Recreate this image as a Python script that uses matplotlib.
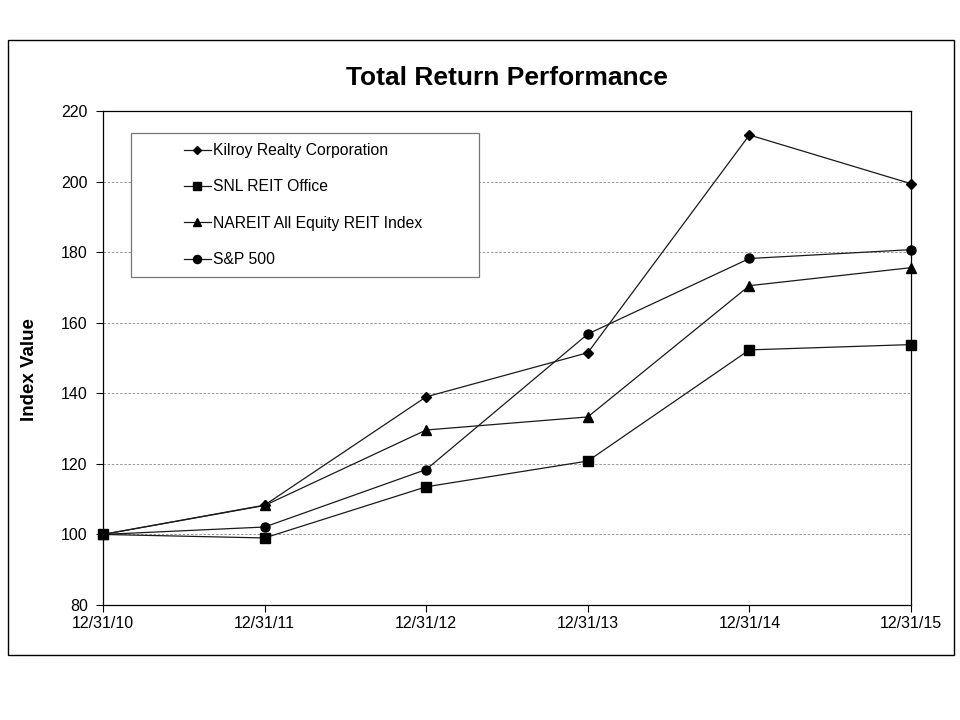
import matplotlib
matplotlib.use("Agg")
from matplotlib import pyplot as plt
from matplotlib.patches import Rectangle

plt.rcParams["font.family"] = ["Liberation Sans", "DejaVu Sans"]

dates = ["12/31/10", "12/31/11", "12/31/12", "12/31/13", "12/31/14", "12/31/15"]
kilroy = [100, 108.3, 139.0, 151.5, 213.2, 199.4]
snl_office = [100, 99.0, 113.5, 120.8, 152.3, 153.8]
nareit = [100, 108.2, 129.6, 133.3, 170.5, 175.6]
sp500 = [100, 102.1, 118.4, 156.8, 178.2, 180.7]

series = [
    ("Kilroy Realty Corporation", kilroy, "D", 5.0),
    ("SNL REIT Office", snl_office, "s", 6.5),
    ("NAREIT All Equity REIT Index", nareit, "^", 6.5),
    ("S&P 500", sp500, "o", 6.5),
]

fig = plt.figure(figsize=(9.6, 7.2), dpi=100)
fig.patches.append(Rectangle((8 / 960, 65 / 720), 946 / 960, 615 / 720,
                             transform=fig.transFigure, fill=False,
                             edgecolor="black", linewidth=1.0))

ax = fig.add_axes([103 / 960, 115 / 720, 808 / 960, 494 / 720])
x = list(range(len(dates)))
for label, vals, marker, ms in series:
    ax.plot(x, vals, color="#1a1a1a", linewidth=0.9, marker=marker,
            markersize=ms, markerfacecolor="black", markeredgecolor="black",
            label=label, clip_on=False, zorder=3)

ax.set_xlim(0, 5)
ax.set_ylim(80, 220)
ax.set_xticks(x)
ax.set_xticklabels(dates)
ax.set_yticks(range(80, 221, 20))
ax.tick_params(axis="both", direction="out", length=5, width=0.8,
               labelsize=11.5, color="black")
ax.tick_params(axis="y", pad=6)
ax.tick_params(axis="x", pad=3)
for s in ax.spines.values():
    s.set_linewidth(0.9)
    s.set_color("black")
for yv in range(100, 220, 20):
    ax.axhline(yv, color="#888888", linewidth=0.6, linestyle=(0, (3, 2)), zorder=1)

fig.text(507 / 960, 1 - 78 / 720, "Total Return Performance", ha="center",
         va="center", fontsize=19, fontweight="bold")
fig.text(29 / 960, 1 - 370 / 720, "Index Value", ha="center", va="center",
         rotation=90, fontsize=13.5, fontweight="bold")

# legend box drawn separately so its size matches the original
box = Rectangle((131 / 960, 1 - 277 / 720), 348 / 960, 144 / 720,
                transform=fig.transFigure, facecolor="white",
                edgecolor="#777777", linewidth=0.9, zorder=4)
ax.add_artist(box)
leg = ax.legend(loc="upper left", bbox_to_anchor=(184 / 960, 1 - 143 / 720),
                bbox_transform=fig.transFigure, frameon=False, fontsize=11.3,
                handlelength=1.7, handletextpad=0.15, labelspacing=1.36,
                borderpad=0, borderaxespad=0, markerscale=0.9)
leg.set_zorder(5)

fig.savefig("out.png", dpi=100)
